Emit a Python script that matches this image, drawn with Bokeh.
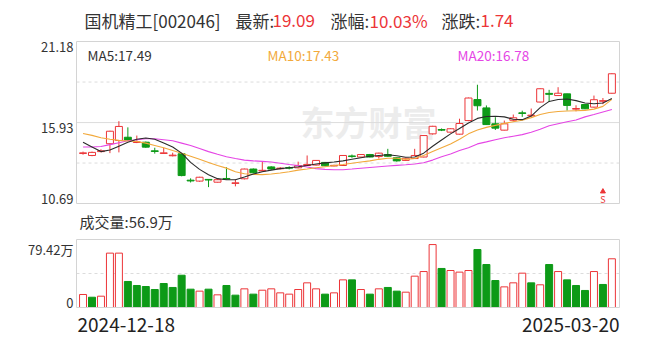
from bokeh.plotting import figure
from bokeh.models import Range1d, Label, ColumnDataSource
from bokeh.embed import file_html
from bokeh.resources import INLINE

dates = ["2024-12-18", "2024-12-19", "2024-12-20", "2024-12-23", "2024-12-24", "2024-12-25",
         "2024-12-26", "2024-12-27", "2024-12-30", "2024-12-31",
         "2025-01-02", "2025-01-03", "2025-01-06", "2025-01-07", "2025-01-08", "2025-01-09",
         "2025-01-10", "2025-01-13", "2025-01-14", "2025-01-15", "2025-01-16", "2025-01-17",
         "2025-01-20", "2025-01-21", "2025-01-22", "2025-01-23", "2025-01-24", "2025-01-27",
         "2025-02-05", "2025-02-06", "2025-02-07", "2025-02-10", "2025-02-11", "2025-02-12",
         "2025-02-13", "2025-02-14", "2025-02-17", "2025-02-18", "2025-02-19", "2025-02-20",
         "2025-02-21", "2025-02-24", "2025-02-25", "2025-02-26", "2025-02-27", "2025-02-28",
         "2025-03-03", "2025-03-04", "2025-03-05", "2025-03-06", "2025-03-07", "2025-03-10",
         "2025-03-11", "2025-03-12", "2025-03-13", "2025-03-14", "2025-03-17", "2025-03-18",
         "2025-03-19", "2025-03-20"]

opens = [13.93, 13.80, 14.05, 14.56, 14.77, 14.98, 14.64, 14.66, 14.10, 13.93,
         13.78, 13.91, 12.20, 12.14, 12.25, 12.07, 12.31, 11.99, 12.29, 12.92,
         12.80, 13.06, 12.94, 13.02, 13.00, 13.15, 13.18, 13.35, 13.12, 13.15,
         13.77, 13.70, 13.86, 13.73, 13.86, 13.65, 13.48, 13.60, 13.70, 15.20,
         15.48, 15.31, 15.18, 16.06, 17.42, 16.88, 15.85, 15.44, 16.08, 16.56,
         16.37, 17.26, 17.82, 17.68, 17.79, 16.80, 17.10, 16.93, 17.31, 17.83]
closes = [13.97, 14.00, 14.10, 15.37, 15.68, 14.80, 14.68, 14.34, 14.06, 13.97,
          13.82, 12.50, 12.15, 12.39, 12.21, 12.23, 12.27, 12.03, 12.92, 12.68,
          12.84, 12.92, 12.98, 12.98, 13.15, 13.22, 13.48, 13.13, 13.16, 13.80,
          13.73, 13.86, 13.70, 13.95, 13.75, 13.45, 13.62, 13.80, 15.09, 15.69,
          15.44, 15.53, 15.87, 17.52, 17.02, 15.80, 15.57, 15.85, 16.24, 16.52,
          16.41, 18.12, 17.76, 17.83, 17.04, 16.84, 16.82, 17.41, 17.35, 19.09]
highs = [14.05, 14.05, 14.20, 15.40, 16.02, 15.62, 15.09, 14.70, 14.30, 14.30,
         13.98, 13.95, 12.32, 12.42, 12.27, 12.26, 13.04, 12.25, 12.95, 12.96,
         13.38, 13.10, 13.05, 13.10, 13.40, 13.80, 13.50, 13.38, 13.20, 13.82,
         13.86, 13.88, 13.90, 13.98, 14.23, 13.68, 13.65, 14.23, 15.12, 15.72,
         15.55, 15.56, 16.18, 17.55, 18.38, 17.04, 16.28, 16.06, 16.45, 16.70,
         16.84, 18.14, 18.05, 18.22, 17.80, 17.05, 17.12, 17.68, 17.52, 19.13]
lows = [13.85, 13.75, 14.00, 13.95, 14.00, 14.75, 14.60, 14.30, 13.92, 13.90,
        13.74, 12.45, 12.05, 12.10, 11.75, 12.05, 12.25, 11.80, 12.25, 12.65,
        12.76, 12.88, 12.90, 12.90, 12.97, 13.12, 13.15, 13.10, 13.10, 13.13,
        13.65, 13.68, 13.68, 13.60, 13.72, 13.40, 13.45, 13.58, 13.68, 15.15,
        15.38, 15.28, 15.15, 16.02, 16.71, 15.78, 15.45, 15.42, 16.00, 16.30,
        16.33, 17.24, 17.26, 17.66, 16.71, 16.66, 16.80, 16.90, 17.12, 17.80]

ma5 = [14.65, 14.35, 14.05, 14.15, 14.40, 14.65, 14.85, 14.93, 14.85, 14.60,
       14.35, 13.95, 13.35, 12.90, 12.55, 12.30, 12.23, 12.23, 12.40, 12.60,
       12.75, 12.85, 12.95, 13.00, 13.07, 13.15, 13.25, 13.32, 13.38, 13.45,
       13.55, 13.65, 13.75, 13.80, 13.85, 13.78, 13.68, 13.70, 13.95, 14.40,
       14.80, 15.20, 15.55, 15.90, 16.20, 16.32, 16.34, 16.30, 16.15, 16.12,
       16.35, 16.90, 17.30, 17.42, 17.46, 17.35, 17.20, 17.15, 17.20, 17.49]
ma10 = [15.22, 15.10, 14.95, 14.85, 14.78, 14.74, 14.70, 14.60, 14.45, 14.30,
        14.12, 13.95, 13.75, 13.55, 13.35, 13.15, 12.98, 12.75, 12.62, 12.57,
        12.56, 12.60, 12.66, 12.75, 12.85, 12.92, 13.00, 13.07, 13.15, 13.22,
        13.30, 13.38, 13.45, 13.55, 13.62, 13.62, 13.55, 13.60, 13.80, 14.05,
        14.30, 14.55, 14.85, 15.20, 15.45, 15.62, 15.75, 15.88, 15.98, 16.08,
        16.25, 16.45, 16.58, 16.65, 16.68, 16.70, 16.72, 16.80, 16.98, 17.43]
ma20 = [14.35, 14.35, 14.38, 14.50, 14.62, 14.75, 14.82, 14.88, 14.88, 14.82,
        14.75, 14.60, 14.45, 14.25, 14.05, 13.88, 13.72, 13.60, 13.50, 13.45,
        13.42, 13.38, 13.30, 13.22, 13.15, 13.05, 12.95, 12.90, 12.88, 12.88,
        12.92, 12.97, 13.02, 13.07, 13.12, 13.16, 13.20, 13.25, 13.33, 13.50,
        13.72, 13.90, 14.12, 14.30, 14.55, 14.68, 14.82, 14.95, 15.05, 15.15,
        15.30, 15.50, 15.72, 15.85, 15.98, 16.10, 16.30, 16.45, 16.62, 16.78]

volumes = [15.2, 12.0, 13.2, 63.5, 63.5, 30.4, 25.7, 24.5, 21.0, 28.0,
           23.4, 37.7, 21.4, 19.1, 21.4, 14.8, 25.7, 14.4, 21.8, 15.6,
           20.2, 21.8, 17.1, 15.6, 21.0, 28.8, 21.8, 15.6, 17.1, 32.3,
           32.3, 21.0, 15.6, 21.8, 23.4, 19.1, 17.9, 36.6, 42.0, 73.5,
           45.6, 43.2, 41.3, 43.2, 67.7, 50.2, 31.5, 24.1, 28.8, 40.1,
           28.8, 26.5, 50.2, 42.0, 32.3, 25.7, 19.9, 42.0, 26.9, 56.9]
vol_up = [1, 0, 1, 1, 1, 0, 0, 0, 0, 0,
          0, 0, 0, 1, 0, 1, 0, 0, 1, 0,
          1, 1, 1, 1, 1, 1, 1, 0, 1, 1,
          0, 1, 0, 1, 0, 0, 1, 1, 1, 1,
          0, 1, 1, 1, 0, 0, 0, 1, 1, 1,
          0, 1, 0, 1, 0, 0, 0, 1, 0, 1]

price_ticks = [10.69, 15.93, 21.18]
price_tick_labels = ["10.69", "15.93", "21.18"]
vol_ticks = [0, 79.42]
vol_tick_labels = ["0", "79.42万"]

title_name = "国机精工[002046]"
latest, pct, change = "19.09", "10.03%", "1.74"
ma_labels = ["MA5:17.49", "MA10:17.43", "MA20:16.78"]
volume_label = "成交量:56.9万"
signal_idx = 58

FONT = "Noto Sans CJK SC"
RED = "#ec3538"
GREEN = "#0d9a17"
TXT = "#333333"
C_MA5 = "#2b2b2b"
C_MA10 = "#f2a93b"
C_MA20 = "#e545e5"
GRID = "#dcdcdc"
FRAME = "#d4d4d4"

W, H = 654, 342
# pixel layout of the two panels
FL, FR = 76, 619           # panel left / right edges
PT, PB = 41, 203           # price panel top / bottom
VT, VB = 239, 307          # volume panel top / bottom

n = len(dates)
idx = list(range(n))
X0, X1 = -0.73, n - 0.15
Y0, Y1 = price_ticks[0], price_ticks[-1]
V1 = vol_ticks[-1]
kx = (X1 - X0) / (FR - FL)
ky = (Y1 - Y0) / (PB - PT)
kv = V1 / (VB - VT)


def px_x(px):
    return X0 + (px - FL) * kx


def py1(py):
    return Y1 - (py - PT) * ky


def py2(py):
    return V1 - (py - VT) * kv


p = figure(width=W, height=H, x_range=Range1d(px_x(0), px_x(W)),
           y_range=Range1d(py1(H), py1(0)),
           x_axis_type=None, y_axis_type=None, toolbar_location=None,
           output_backend="svg", min_border=0)
p.extra_y_ranges = {"vol": Range1d(py2(H), py2(0))}
p.outline_line_color = None
p.background_fill_color = "white"
p.border_fill_color = "white"

# ---------------- price panel ----------------
mid_hi = (price_ticks[1] + price_ticks[2]) / 2
mid_lo = (price_ticks[0] + price_ticks[1]) / 2
p.segment([X0], [price_ticks[1]], [X1], [price_ticks[1]], line_color=GRID, line_width=1)
p.segment([X0, X0], [mid_hi, mid_lo], [X1, X1], [mid_hi, mid_lo], line_color=GRID,
          line_width=1, line_dash="3 3")

p.add_layout(Label(x=px_x(368), y=py1(121), text="东方财富", text_font=FONT,
                   text_font_size="34px", text_font_style="bold", text_color="#ececec",
                   text_align="center", text_baseline="middle", level="underlay"))

up = [c >= o for o, c in zip(opens, closes)]
src = ColumnDataSource(dict(
    x=idx, high=highs, low=lows,
    top=[max(o, c) for o, c in zip(opens, closes)],
    bottom=[min(o, c) for o, c in zip(opens, closes)],
    color=[RED if u else GREEN for u in up],
    fill=["white" if u else GREEN for u in up],
))
p.segment(x0="x", y0="low", x1="x", y1="high", color="color", line_width=1, source=src)
p.vbar(x="x", top="top", bottom="bottom", width=0.78, fill_color="fill",
       line_color="color", line_width=1, source=src)

p.line(idx, ma20, line_color=C_MA20, line_width=1.1)
p.line(idx, ma10, line_color=C_MA10, line_width=1.1)
p.line(idx, ma5, line_color=C_MA5, line_width=1.1)

p.scatter([signal_idx], [py1(191)], marker="triangle", size=5, color=RED)
p.add_layout(Label(x=signal_idx, y=py1(199), text="S", text_font=FONT, text_font_size="9px",
                   text_color=RED, text_align="center", text_baseline="middle"))

p.quad(left=[X0], right=[X1], bottom=[Y0], top=[Y1], fill_alpha=0, line_color=FRAME,
       line_width=1)

for t, lab in zip(price_ticks, price_tick_labels):
    p.add_layout(Label(x=px_x(FL - 3), y=t, text=lab, text_font=FONT, text_font_size="13px",
                       text_color=TXT, text_align="right",
                       text_baseline="bottom" if t == price_ticks[0] else "top"))

title_parts = [(84, title_name, TXT), (235, "最新:", TXT), (272, latest, RED),
               (330, "涨幅:", TXT), (369, pct, RED), (441, "涨跌:", TXT), (480, change, RED)]
for xp, txt, col in title_parts:
    p.add_layout(Label(x=px_x(xp), y=py1(20), text=txt, text_font=FONT,
                       text_font_size="17px", text_color=col, text_align="left",
                       text_baseline="middle"))

for xp, txt, col in zip([87, 267, 457], ma_labels, [TXT, C_MA10, C_MA20]):
    p.add_layout(Label(x=px_x(xp), y=py1(54), text=txt, text_font=FONT,
                       text_font_size="13.5px", text_color=col, text_align="left",
                       text_baseline="middle"))

p.add_layout(Label(x=px_x(79), y=py1(221), text=volume_label, text_font=FONT,
                   text_font_size="15px", text_color=TXT, text_align="left",
                   text_baseline="middle"))

# ---------------- volume panel ----------------
p.segment([X0], [V1 / 2], [X1], [V1 / 2], line_color=GRID, line_width=1, line_dash="3 3",
          y_range_name="vol")
vsrc = ColumnDataSource(dict(
    x=idx, vol=volumes,
    color=[RED if u else GREEN for u in vol_up],
    fill=["white" if u else GREEN for u in vol_up],
))
p.vbar(x="x", top="vol", bottom=0, width=0.78, fill_color="fill", line_color="color",
       line_width=1, source=vsrc, y_range_name="vol")
p.quad(left=[X0], right=[X1], bottom=[0], top=[V1], fill_alpha=0, line_color=FRAME,
       line_width=1, y_range_name="vol")

for t, lab in zip(vol_ticks, vol_tick_labels):
    p.add_layout(Label(x=px_x(FL - 3), y=t, text=lab, text_font=FONT, text_font_size="13px",
                       text_color=TXT, text_align="right", y_range_name="vol",
                       text_baseline="bottom" if t == vol_ticks[0] else "top"))

p.add_layout(Label(x=px_x(77), y=py2(324), text=dates[0], text_font=FONT,
                   text_font_size="19px", text_color="#222222", text_align="left",
                   text_baseline="middle", y_range_name="vol"))
p.add_layout(Label(x=px_x(FR), y=py2(324), text=dates[-1], text_font=FONT,
                   text_font_size="19px", text_color="#222222", text_align="right",
                   text_baseline="middle", y_range_name="vol"))

open("out.html", "w").write(file_html(p, INLINE))
